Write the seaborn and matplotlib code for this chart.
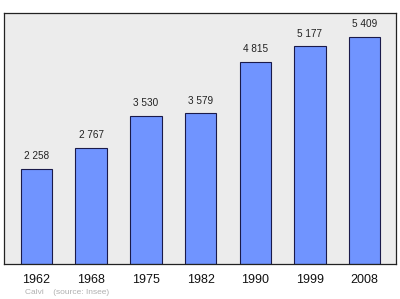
import matplotlib
matplotlib.use("Agg")
import matplotlib.pyplot as plt
import seaborn as sns
import pandas as pd

years = ["1962", "1968", "1975", "1982", "1990", "1999", "2008"]
population = [2258, 2767, 3530, 3579, 4815, 5177, 5409]
labels = ["2 258", "2 767", "3 530", "3 579", "4 815", "5 177", "5 409"]

df = pd.DataFrame({"year": years, "pop": population})

sns.set_style("white")
plt.rcParams['font.family'] = ['Liberation Sans', 'DejaVu Sans']

fig = plt.figure(figsize=(4.0, 2.99), dpi=100)
ax = fig.add_axes([0.01, 0.117, 0.979, 0.8395])
ax.set_facecolor("#ececec")

sns.barplot(data=df, x="year", y="pop", color="#7094ff", saturation=1,
            width=0.576, edgecolor="#1a1a4a", linewidth=0.8, ax=ax)

for i, (v, lab) in enumerate(zip(population, labels)):
    ax.annotate(lab, (i, v), xytext=(0, 5.5), textcoords="offset points",
                ha="center", va="bottom", fontsize=7.2, color="#222222")

ax.set_xlim(-0.594, 6.565)
ax.set_ylim(0, 5968)
ax.set_yticks([])
ax.set_xlabel("")
ax.set_ylabel("")
ax.tick_params(axis="x", length=0, pad=7, labelsize=9, colors="#111111")
for s in ax.spines.values():
    s.set_color("#222222")
    s.set_linewidth(0.9)

fig.text(0.0625, 0.022, "Calvi    (source: Insee)", fontsize=6, color="#b0b0b0",
         ha="left", va="center")

fig.savefig("out.png", dpi=100, facecolor="white")
